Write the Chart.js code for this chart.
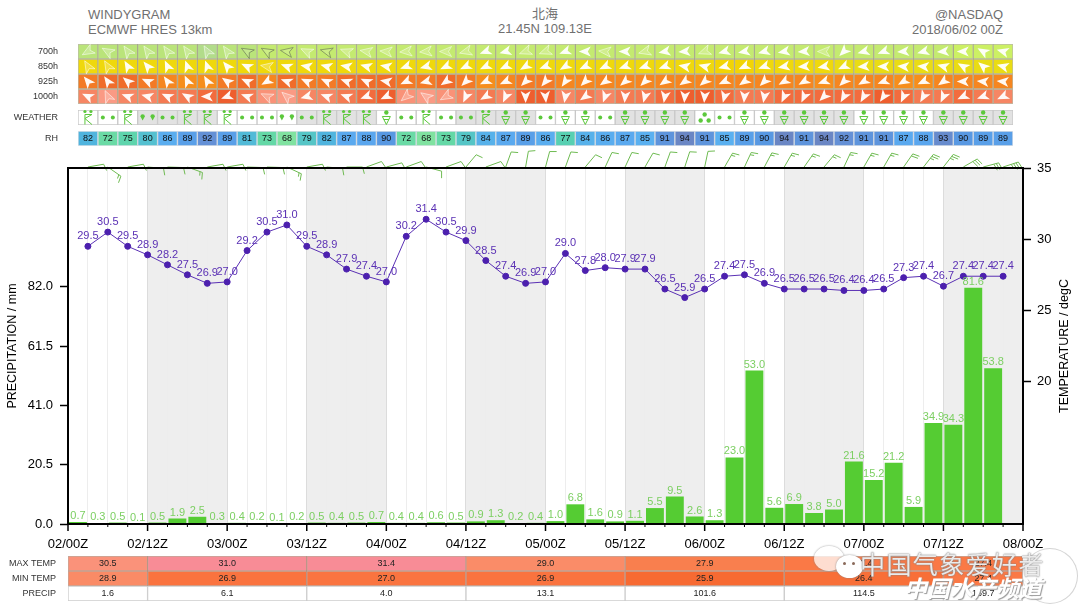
<!DOCTYPE html>
<html>
<head>
<meta charset="utf-8">
<title>Windygram</title>
<script src="https://cdn.jsdelivr.net/npm/chart.js@4"></script>
<style>
html, body { margin: 0; padding: 0; background: #fff; }
#page { position: relative; width: 1080px; height: 609px; overflow: hidden; font-family: "Liberation Sans", "Noto Sans CJK SC", sans-serif; }
canvas { position: absolute; left: 0; }
.head { position: absolute; color: #707070; font-size: 13px; line-height: 15px; white-space: nowrap; }
.mark { position: absolute; white-space: nowrap; }
.bubble { position: absolute; border-radius: 50%; box-shadow: 0 0 2px #888; }
.eye { position: absolute; width: 3px; height: 3px; border-radius: 50%; background: #8a6a5a; }
</style>
</head>
<body>
<div id="page">
  <div class="head" style="left:88px;top:7px">WINDYGRAM<br>ECMWF HRES 13km</div>
  <div class="head" style="left:445px;width:200px;top:6px;text-align:center">北海<br>21.45N 109.13E</div>
  <div class="head" style="right:77px;top:7px;text-align:right">@NASDAQ<br>2018/06/02 00Z</div>

  <canvas id="windChart" width="1080" height="68" style="top:40px"></canvas>
  <canvas id="weatherChart" width="1080" height="23" style="top:106px"></canvas>
  <canvas id="rhChart" width="1080" height="23" style="top:127px"></canvas>
  <canvas id="mainChart" width="1080" height="552" style="top:0"></canvas>
  <canvas id="tableChart" width="1080" height="54" style="top:552px"></canvas>

  <div class="bubble" style="left:814px;top:546px;width:30px;height:25px;background:rgba(255,255,255,.75)"></div>
  <div class="bubble" style="left:836px;top:555px;width:27px;height:23px;background:#fff"></div>
  <div class="eye" style="left:843px;top:562px"></div>
  <div class="eye" style="left:852px;top:562px"></div>
  <div class="mark" style="left:1022px;top:548px;width:54px;height:54px;border-radius:50%;border:1px solid rgba(170,170,170,.5);background:rgba(255,255,255,.3)"></div>
  <div class="mark" style="left:860px;top:545px;font-size:25px;letter-spacing:1.4px;color:rgba(255,255,255,.85);text-shadow:0 0 1px #777,0 0 2px #888;font-family:'Noto Sans CJK SC'">中国气象爱好者</div>
  <div class="mark" style="left:904px;top:570px;font-size:23px;font-weight:bold;font-style:italic;color:#fff;text-shadow:1px 1px 1px #999;font-family:'Noto Sans CJK SC'">中国水产频道</div>
</div>

<script>
Chart.defaults.font.family = '"Liberation Sans", sans-serif';
Chart.defaults.animation = false;
Chart.defaults.responsive = false;
Chart.defaults.plugins.legend.display = false;
Chart.defaults.plugins.tooltip.enabled = false;

// values, one entry per 3h step (02/03Z .. 07/21Z)
var temperature = [29.5,30.5,29.5,28.9,28.2,27.5,26.9,27.0,29.2,30.5,31.0,29.5,28.9,27.9,27.4,27.0,30.2,31.4,30.5,29.9,28.5,27.4,26.9,27.0,29.0,27.8,28.0,27.9,27.9,26.5,25.9,26.5,27.4,27.5,26.9,26.5,26.5,26.5,26.4,26.4,26.5,27.3,27.4,26.7,27.4,27.4,27.4];
var precipitation = [0.7,0.3,0.5,0.1,0.5,1.9,2.5,0.3,0.4,0.2,0.1,0.2,0.5,0.4,0.5,0.7,0.4,0.4,0.6,0.5,0.9,1.3,0.2,0.4,1.0,6.8,1.6,0.9,1.1,5.5,9.5,2.6,1.3,23.0,53.0,5.6,6.9,3.8,5.0,21.6,15.2,21.2,5.9,34.9,34.3,81.6,53.8];
var humidity = [82,72,75,80,86,89,92,89,81,73,68,79,82,87,88,90,72,68,73,79,84,87,89,86,77,84,86,87,85,91,94,91,85,89,90,94,91,94,92,91,91,87,88,93,90,89,89];

// d = two dots, p = two drops, r = rain and cloud, v = shower, t = three dots
var weather = ['r','d','r','p','d','r','r','r','d','d','p','d','r','r','r','v','d','r','d','d','r','v','v','d','v','v','d','v','v','v','v','t','d','v','v','v','v','v','v','v','v','v','v','v','v','v','v'];

// wind arrows: compass bearing the arrow points to
var wind700 = [240,300,325,325,325,325,330,325,300,300,280,295,285,290,280,275,265,265,270,255,250,255,250,250,250,270,275,270,255,260,265,250,255,260,255,260,265,270,225,255,250,265,255,265,270,300,285];
var wind850 = [330,330,330,320,335,340,340,320,295,280,290,280,285,280,285,280,250,255,245,245,245,245,240,250,240,245,245,250,250,250,280,285,255,245,250,260,265,260,245,265,270,275,275,285,300,310,285];
var wind925 = [320,325,310,295,325,335,330,305,295,240,290,295,295,290,295,280,245,255,235,225,245,245,225,220,215,225,235,230,225,235,235,230,245,235,225,240,240,250,225,240,250,240,245,235,270,275,275];
var wind1000 = [295,335,290,285,295,300,270,250,290,295,310,255,290,290,250,245,230,305,240,205,240,205,180,175,190,235,200,185,195,190,185,185,195,185,190,205,205,225,210,210,215,205,210,205,245,250,245];

// cells where the arrow is pale (light wind) or only a dark outline
var faint700 = [0,1,2,3,4,5,6,7,11,13,14,15,16,17,18,19,22,23,26,28,31,37];
var outline700 = [8,9,10,12];
var faint850 = [0,1,9];
var faint925 = [];
var faint1000 = [1,9,10,16,17,18];

// shade steps of each level row
var shade700 = [1,1,1,1,1,1,0,1,1,2,2,2,2,2,2,2,2,2,2,2,2,2,2,2,2,2,2,2,2,2,2,2,2,2,2,2,2,2,2,2,2,2,2,2,3,3,3];
var shade850 = [1,1,1,1,1,1,1,1,1,1,1,1,1,1,1,1,1,1,1,1,1,1,1,1,1,1,1,1,1,1,1,1,0,0,1,1,1,1,2,2,2,2,2,2,2,2,2];
var shade925 = [1,0,0,1,2,3,3,1,0,2,0,1,1,0,0,0,1,1,0,1,3,2,1,1,2,2,2,2,2,2,2,2,2,2,2,2,2,3,2,2,2,3,3,2,2,2,2];
var shade1000 = [3,5,3,3,2,2,1,0,2,4,5,3,3,2,1,0,4,5,4,3,2,3,0,0,3,2,3,2,2,1,0,0,1,2,2,1,1,1,1,1,0,1,2,2,1,2,3];

// wind barbs over the plot: bearing of the shaft and speed in knots
var barbDir = [80,125,80,95,92,110,80,80,92,92,115,80,95,90,70,75,70,105,70,40,70,20,10,15,20,40,25,25,30,20,18,12,30,25,28,30,35,40,25,30,30,35,38,38,60,75,72];
var barbSpeed = [10,15,10,10,10,15,10,10,10,10,15,10,10,10,10,10,10,10,10,10,10,10,10,10,10,10,10,10,10,10,10,10,15,15,15,15,15,15,15,15,15,20,25,25,30,30,35];

var precipTicks = [0, 20.5, 41, 61.5, 82];
var tempTicks = [20, 25, 30, 35];
var dayTickLabels = {0:'02/00Z',12:'02/12Z',24:'03/00Z',36:'03/12Z',48:'04/00Z',60:'04/12Z',72:'05/00Z',84:'05/12Z',96:'06/00Z',108:'06/12Z',120:'07/00Z',132:'07/12Z',144:'08/00Z'};

// hours since 02/00Z
var nightBands = [[12,24],[36,48],[60,72],[84,96],[108,120],[132,144]];
var periods = [[0,12],[12,36],[36,60],[60,84],[84,108],[108,132],[132,144]];
var maxTemp = [30.5,31.0,31.4,29.0,27.9,27.4,27.4];
var minTemp = [28.9,26.9,27.0,26.9,25.9,26.4,27.4];
var precipTotal = [1.6,6.1,4.0,13.1,101.6,114.5,169.7];

var stepHours = temperature.map(function (t, i) { return 3 * (i + 1); });

var GREEN = '#5cc83c';
var palettes = {
    '700h': ['#b2dc8a', '#bae47a', '#c4ea70', '#ccf064'],
    '850h': ['#f2d404', '#efd80c', '#e9dc14'],
    '925h': ['#f06c2a', '#f37a26', '#f58620', '#f68e1c'],
    '1000h': ['#ee5e2e', '#f26c3e', '#f47a52', '#f68664', '#f99278', '#fa9a84']
};

function lerpColor(stops, v) {
    if (v <= stops[0][0]) return 'rgb(' + stops[0][1].join(',') + ')';
    for (let i = 1; i < stops.length; i++) {
        if (v <= stops[i][0]) {
            var f = (v - stops[i - 1][0]) / (stops[i][0] - stops[i - 1][0]);
            var c = stops[i][1].map(function (x, k) { return Math.round(stops[i - 1][1][k] + (x - stops[i - 1][1][k]) * f); });
            return 'rgb(' + c.join(',') + ')';
        }
    }
    return 'rgb(' + stops[stops.length - 1][1].join(',') + ')';
}

function rhColor(v) {
    return lerpColor([[68,[128,226,160]],[73,[100,216,166]],[77,[88,208,178]],[80,[84,192,208]],[82,[80,180,222]],[85,[90,176,240]],[88,[90,166,238]],[90,[88,152,226]],[92,[100,144,214]],[94,[106,134,196]]], v);
}

function tempColor(v) {
    return lerpColor([[25.9,[247,106,50]],[27,[250,116,64]],[28,[249,128,80]],[29,[250,140,104]],[30.5,[250,146,122]],[31,[248,140,150]]], v);
}

function inNight(h) {
    return nightBands.some(function (b) { return h >= b[0] && h < b[1]; });
}

// x axis of the strips, it has to take no room at all
function hourAxis(min, max) {
    return {
        type: 'linear', min: min, max: max, offset: false,
        border: { display: false },
        grid: { display: false, drawTicks: false, offset: false },
        ticks: { display: false },
        afterFit: function (scale) { scale.height = 0; }
    };
}

// tick padding also gets added above and below a vertical axis, drop that
function fitRowAxis(scale, width) {
    scale.width = width;
    scale.paddingTop = 0;
    scale.paddingBottom = 0;
}

// y axis of a strip: one row per label, first label on top
function rowAxis(rowLabels) {
    return {
        type: 'linear', min: 0, max: rowLabels.length, reverse: true,
        border: { display: false },
        grid: { display: false, drawTicks: false },
        afterBuildTicks: function (scale) {
            scale.ticks = rowLabels.map(function (l, i) { return { value: i + 0.5, label: l }; });
        },
        afterFit: function (scale) { fitRowAxis(scale, 78); },
        ticks: {
            padding: 20, color: '#333', font: { size: 9 }, autoSkip: false,
            callback: function (v) { return rowLabels[v - 0.5]; }
        }
    };
}

function stripChart(id, rowLabels, datasets, plugin, pad) {
    return new Chart(document.getElementById(id), {
        type: 'bar',
        data: { datasets: datasets },
        options: {
            layout: { padding: { top: pad, bottom: pad, left: 0, right: 67 } },
            scales: { x: hourAxis(1.5, 142.5), y: rowAxis(rowLabels) }
        },
        plugins: [plugin]
    });
}

function rowDataset(row, colors, borderColor) {
    return {
        data: stepHours.map(function (h) { return { x: h, y: [row, row + 1] }; }),
        backgroundColor: colors,
        borderColor: borderColor,
        borderWidth: 1,
        borderSkipped: false,
        grouped: false,
        barPercentage: 1,
        categoryPercentage: 1
    };
}

function drawArrow(ctx, x, y, bearing, style) {
    ctx.save();
    ctx.translate(x, y);
    ctx.rotate(bearing * Math.PI / 180);
    ctx.beginPath();
    ctx.moveTo(0, -6.5);
    ctx.lineTo(5, 5.5);
    ctx.lineTo(0, 2.5);
    ctx.lineTo(-5, 5.5);
    ctx.closePath();
    if (style == 'faint') {
        ctx.fillStyle = 'rgba(255,255,255,0.22)';
        ctx.strokeStyle = 'rgba(255,255,255,0.6)';
        ctx.lineWidth = 0.8;
        ctx.fill();
        ctx.stroke();
    } else if (style == 'outline') {
        ctx.fillStyle = 'rgba(255,255,255,0.15)';
        ctx.strokeStyle = 'rgba(90,100,80,0.65)';
        ctx.lineWidth = 0.8;
        ctx.fill();
        ctx.stroke();
    } else {
        ctx.fillStyle = 'rgba(255,255,255,0.95)';
        ctx.fill();
    }
    ctx.restore();
}

var windRows = [
    { label: '700h', dirs: wind700, shades: shade700, faint: faint700, outline: outline700 },
    { label: '850h', dirs: wind850, shades: shade850, faint: faint850, outline: [] },
    { label: '925h', dirs: wind925, shades: shade925, faint: faint925, outline: [] },
    { label: '1000h', dirs: wind1000, shades: shade1000, faint: faint1000, outline: [] }
];

var windArrows = {
    id: 'windArrows',
    afterDatasetsDraw: function (chart) {
        var ctx = chart.ctx;
        windRows.forEach(function (row, r) {
            stepHours.forEach(function (h, i) {
                var style = row.outline.indexOf(i) >= 0 ? 'outline' : (row.faint.indexOf(i) >= 0 ? 'faint' : 'solid');
                drawArrow(ctx, chart.scales.x.getPixelForValue(h), chart.scales.y.getPixelForValue(r + 0.5), row.dirs[i], style);
            });
        });
    }
};

stripChart('windChart', windRows.map(function (r) { return r.label; }), windRows.map(function (row, r) {
    return rowDataset(r, row.shades.map(function (s) { return palettes[row.label][s]; }), 'rgba(60,60,0,0.35)');
}), windArrows, 4);

function dot(ctx, x, y, r) {
    ctx.beginPath();
    ctx.arc(x, y, r, 0, Math.PI * 2);
    ctx.fill();
}

function drop(ctx, x, y) {
    ctx.beginPath();
    ctx.arc(x, y - 1, 2.2, Math.PI, 0);
    ctx.lineTo(x, y + 3);
    ctx.closePath();
    ctx.fill();
}

function drawWeather(ctx, kind, x, y) {
    ctx.fillStyle = GREEN;
    ctx.strokeStyle = GREEN;
    ctx.lineWidth = 1;
    if (kind == 'd') {
        dot(ctx, x - 5, y, 2);
        dot(ctx, x + 5, y, 2);
    } else if (kind == 'p') {
        drop(ctx, x - 5, y);
        drop(ctx, x + 5, y);
    } else if (kind == 't') {
        dot(ctx, x, y - 3, 2.2);
        dot(ctx, x - 4, y + 3, 2.2);
        dot(ctx, x + 4, y + 3, 2.2);
    } else if (kind == 'v') {
        dot(ctx, x, y - 5, 2.2);
        ctx.beginPath();
        ctx.moveTo(x - 4, y - 1);
        ctx.lineTo(x + 4, y - 1);
        ctx.lineTo(x, y + 7);
        ctx.closePath();
        ctx.moveTo(x - 2.5, y + 2);
        ctx.lineTo(x + 2.5, y + 2);
        ctx.stroke();
    } else if (kind == 'r') {
        dot(ctx, x - 3, y - 6, 1.6);
        dot(ctx, x + 3, y - 6, 1.6);
        ctx.beginPath();
        ctx.moveTo(x - 3, y + 7);
        ctx.lineTo(x - 3, y - 3);
        ctx.lineTo(x + 4, y - 3);
        ctx.lineTo(x - 3, y + 1);
        ctx.lineTo(x + 4, y + 7);
        ctx.stroke();
    }
}

var weatherIcons = {
    id: 'weatherIcons',
    afterDatasetsDraw: function (chart) {
        stepHours.forEach(function (h, i) {
            drawWeather(chart.ctx, weather[i], chart.scales.x.getPixelForValue(h), chart.scales.y.getPixelForValue(0.5));
        });
    }
};

stripChart('weatherChart', ['WEATHER'], [rowDataset(0, stepHours.map(function (h) { return inNight(h) ? '#e2e2e2' : '#ffffff'; }), '#c8c8c8')], weatherIcons, 4);

var rhNumbers = {
    id: 'rhNumbers',
    afterDatasetsDraw: function (chart) {
        var ctx = chart.ctx;
        ctx.fillStyle = '#111';
        ctx.font = '9px "Liberation Sans"';
        ctx.textAlign = 'center';
        ctx.textBaseline = 'middle';
        stepHours.forEach(function (h, i) {
            ctx.fillText(humidity[i], chart.scales.x.getPixelForValue(h), chart.scales.y.getPixelForValue(0.5) + 0.5);
        });
    }
};

stripChart('rhChart', ['RH'], [rowDataset(0, humidity.map(rhColor), 'rgba(60,90,120,0.18)')], rhNumbers, 4);

// grey bands behind the plot
var bandsPlugin = {
    id: 'bands',
    beforeDraw: function (chart) {
        var a = chart.chartArea, x = chart.scales.x, ctx = chart.ctx;
        ctx.save();
        ctx.fillStyle = '#eeeeee';
        nightBands.forEach(function (b) {
            ctx.fillRect(x.getPixelForValue(b[0]), a.top, x.getPixelForValue(b[1]) - x.getPixelForValue(b[0]), a.bottom - a.top);
        });
        ctx.restore();
    }
};

var valueLabels = {
    id: 'valueLabels',
    afterDatasetsDraw: function (chart) {
        var ctx = chart.ctx;
        ctx.save();
        ctx.textAlign = 'center';
        ctx.textBaseline = 'middle';
        ctx.font = '11px "Liberation Sans"';
        ctx.fillStyle = '#7ccf62';
        chart.getDatasetMeta(0).data.forEach(function (el, i) {
            ctx.fillText(precipitation[i].toFixed(1), el.x, el.y - 6);
        });
        ctx.fillStyle = '#5a30b4';
        chart.getDatasetMeta(1).data.forEach(function (el, i) {
            ctx.fillText(temperature[i].toFixed(1), el.x, el.y - 10);
        });
        ctx.restore();
    }
};

function drawBarb(ctx, x, y, bearing, speed) {
    var a = bearing * Math.PI / 180;
    var len = 16;
    var ex = x + Math.sin(a) * len, ey = y - Math.cos(a) * len;
    ctx.beginPath();
    ctx.moveTo(x, y);
    ctx.lineTo(ex, ey);
    var b = (bearing + 75) * Math.PI / 180;
    var pos = 0, left = speed;
    while (left >= 5) {
        var tick = left >= 10 ? 7 : 4;
        var sx = ex - Math.sin(a) * pos, sy = ey + Math.cos(a) * pos;
        ctx.moveTo(sx, sy);
        ctx.lineTo(sx + Math.sin(b) * tick, sy - Math.cos(b) * tick);
        left -= left >= 10 ? 10 : 5;
        pos += 2.5;
    }
    ctx.stroke();
}

// barbs, outer frame and axis ticks go over everything
var framePlugin = {
    id: 'frame',
    afterDraw: function (chart) {
        var a = chart.chartArea, x = chart.scales.x, ctx = chart.ctx;
        ctx.save();
        ctx.strokeStyle = '#6fbb52';
        ctx.lineWidth = 1;
        stepHours.forEach(function (h, i) {
            drawBarb(ctx, x.getPixelForValue(h), a.top - 1, barbDir[i], barbSpeed[i]);
        });
        ctx.strokeStyle = '#000';
        ctx.lineWidth = 2;
        ctx.strokeRect(a.left, a.top, a.right - a.left, a.bottom - a.top);
        for (let h = 0; h <= 144; h += 3) {
            var px = x.getPixelForValue(h);
            ctx.lineWidth = h % 12 == 0 ? 1.5 : 1;
            ctx.beginPath();
            ctx.moveTo(px, a.bottom);
            ctx.lineTo(px, a.bottom + (h % 12 == 0 ? 7 : 3));
            ctx.stroke();
        }
        ctx.fillStyle = '#000';
        ctx.font = '12.5px "Liberation Sans"';
        ctx.textAlign = 'center';
        ctx.textBaseline = 'middle';
        ctx.translate(1065, (a.top + a.bottom) / 2);
        ctx.rotate(-Math.PI / 2);
        ctx.fillText('TEMPERATURE / degC', 0, 0);
        ctx.restore();
    }
};

new Chart(document.getElementById('mainChart'), {
    type: 'bar',
    data: {
        datasets: [
            {
                type: 'bar',
                order: 2,
                yAxisID: 'y',
                data: stepHours.map(function (h, i) { return { x: h - 1.5, y: precipitation[i] }; }),
                backgroundColor: '#55cc33',
                barPercentage: 0.9,
                categoryPercentage: 1
            },
            {
                type: 'line',
                order: 1,
                yAxisID: 'y1',
                data: stepHours.map(function (h, i) { return { x: h, y: temperature[i] }; }),
                borderColor: '#5a30b4',
                borderWidth: 1,
                pointBackgroundColor: '#4c20ae',
                pointBorderColor: '#4c20ae',
                pointRadius: 3,
                tension: 0
            }
        ]
    },
    options: {
        layout: { padding: { top: 168, left: 0, right: 0, bottom: 0 } },
        scales: {
            x: {
                type: 'linear', min: 0, max: 144, offset: false,
                border: { display: false },
                grid: {
                    offset: false, drawTicks: false,
                    color: function (c) { return c.tick && c.tick.value % 12 == 0 ? '#dcdcdc' : '#ededed'; }
                },
                afterFit: function (scale) { scale.height = 28; },
                ticks: {
                    stepSize: 3, autoSkip: false, maxRotation: 0, padding: 13, color: '#000', font: { size: 13 },
                    callback: function (v) { return dayTickLabels[v] || ''; }
                }
            },
            y: {
                position: 'left', min: 0, max: 123,
                border: { display: false },
                grid: { drawOnChartArea: false, tickLength: 8, tickColor: '#000', tickWidth: 1.5 },
                afterFit: function (scale) { scale.width = 68; },
                afterBuildTicks: function (scale) {
                    scale.ticks = precipTicks.map(function (v) { return { value: v }; });
                },
                title: { display: true, text: 'PRECIPITATION / mm', color: '#000', font: { size: 12.5 }, padding: { top: 5, bottom: 0 } },
                ticks: {
                    padding: 7, color: '#000', font: { size: 13 },
                    callback: function (v) { return v.toFixed(1); }
                }
            },
            y1: {
                position: 'right', min: 10, max: 35,
                border: { display: false },
                grid: { drawOnChartArea: false, tickLength: 8, tickColor: '#000', tickWidth: 1.5 },
                afterFit: function (scale) { scale.width = 57; },
                afterBuildTicks: function (scale) {
                    scale.ticks = tempTicks.map(function (v) { return { value: v }; });
                },
                ticks: { padding: 6, color: '#000', font: { size: 13 } }
            }
        }
    },
    plugins: [bandsPlugin, valueLabels, framePlugin]
});

// summary table under the plot
var tableRows = ['MAX TEMP', 'MIN TEMP', 'PRECIP'];
var tableValues = [maxTemp, minTemp, precipTotal];

var tableNumbers = {
    id: 'tableNumbers',
    afterDatasetsDraw: function (chart) {
        var ctx = chart.ctx;
        ctx.save();
        ctx.fillStyle = '#222';
        ctx.font = '9px "Liberation Sans"';
        ctx.textAlign = 'center';
        ctx.textBaseline = 'middle';
        periods.forEach(function (p, i) {
            var cx = chart.scales.x.getPixelForValue((p[0] + p[1]) / 2);
            tableRows.forEach(function (name, r) {
                ctx.fillText(tableValues[r][i].toFixed(1), cx, chart.scales.y.getPixelForValue(name) + 0.5);
            });
        });
        ctx.restore();
    }
};

new Chart(document.getElementById('tableChart'), {
    type: 'bar',
    data: {
        labels: tableRows,
        datasets: periods.map(function (p, i) {
            return {
                data: [p, p, p],
                backgroundColor: [tempColor(maxTemp[i]), tempColor(minTemp[i]), '#ffffff'],
                borderColor: ['rgba(120,60,30,0.45)', 'rgba(120,60,30,0.45)', '#cccccc'],
                borderWidth: 1,
                borderSkipped: false,
                grouped: false,
                barPercentage: 1,
                categoryPercentage: 1
            };
        })
    },
    options: {
        indexAxis: 'y',
        layout: { padding: { top: 4, bottom: 5, left: 0, right: 57 } },
        scales: {
            x: hourAxis(0, 144),
            y: {
                border: { display: false },
                grid: { display: false, drawTicks: false },
                afterFit: function (scale) { fitRowAxis(scale, 68); },
                ticks: { padding: 12, color: '#333', font: { size: 9 } }
            }
        }
    },
    plugins: [tableNumbers]
});
</script>
</body>
</html>
